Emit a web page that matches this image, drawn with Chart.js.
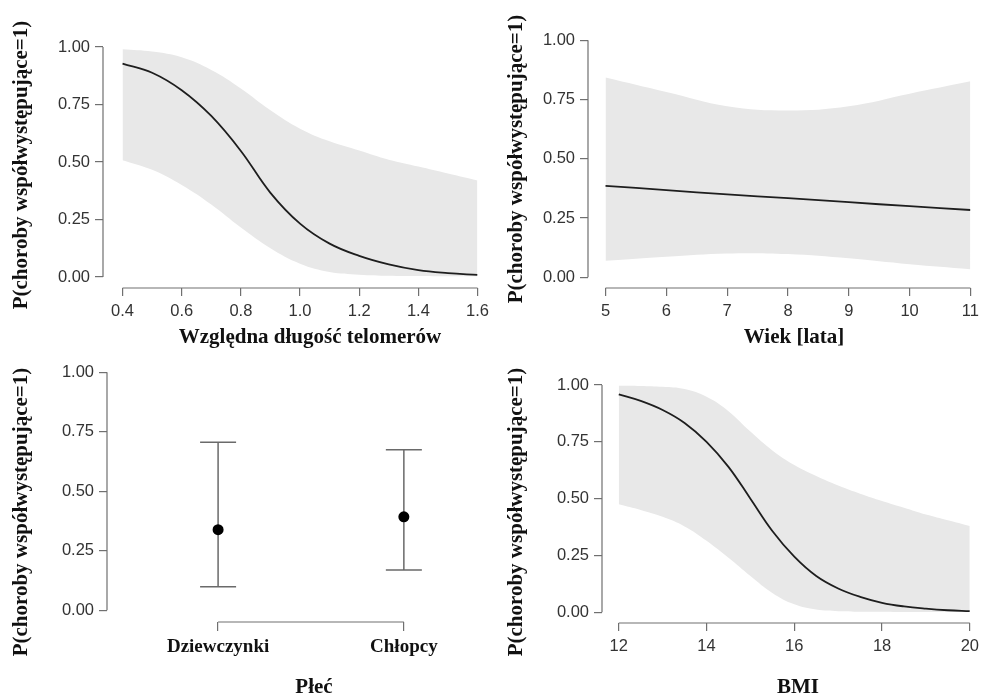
<!DOCTYPE html>
<html lang="pl">
<head>
<meta charset="utf-8">
<title>P(choroby współwystępujące=1)</title>
<script src="https://cdn.jsdelivr.net/npm/chart.js@4.4.1/dist/chart.umd.min.js"></script>
<style>
    html, body { margin: 0; padding: 0; background: #fff; overflow: hidden; }
    body { position: relative; width: 985px; height: 697px; }
    canvas { position: absolute; }
</style>
</head>
<body>
<canvas id="telomery" width="495" height="348" style="left:0;top:0"></canvas>
<canvas id="wiek" width="493" height="348" style="left:492px;top:0"></canvas>
<canvas id="plec" width="495" height="349" style="left:0;top:348px"></canvas>
<canvas id="bmi" width="493" height="349" style="left:492px;top:348px"></canvas>
<script>
// Predicted probability of comorbidities (logistic model effects)

const Y_TITLE = 'P(choroby współwystępujące=1)';
const yTicks = [0, 0.25, 0.5, 0.75, 1];

// Relative telomere length
const telomerX     = [0.4, 0.5, 0.6, 0.7, 0.8, 0.9, 1.0, 1.1, 1.2, 1.3, 1.4, 1.5, 1.6];
const telomerP     = [0.928, 0.888, 0.812, 0.7, 0.548, 0.366, 0.232, 0.145, 0.092, 0.055, 0.03, 0.017, 0.009];
const telomerUpper = [0.99, 0.98, 0.955, 0.9, 0.82, 0.725, 0.645, 0.59, 0.55, 0.51, 0.48, 0.45, 0.42];
const telomerLower = [0.508, 0.466, 0.4, 0.315, 0.215, 0.125, 0.058, 0.022, 0.01, 0.005, 0.004, 0.003, 0.003];
const telomerTicks = [0.4, 0.6, 0.8, 1.0, 1.2, 1.4, 1.6];

// Age in years
const wiekX     = [5, 6, 7, 8, 9, 10, 11];
const wiekP     = [0.386, 0.368, 0.35, 0.334, 0.317, 0.3, 0.284];
const wiekUpper = [0.843, 0.782, 0.722, 0.704, 0.722, 0.775, 0.827];
const wiekLower = [0.07, 0.087, 0.101, 0.098, 0.08, 0.055, 0.034];
const wiekTicks = [5, 6, 7, 8, 9, 10, 11];

// Sex
const plecLabels = ['Dziewczynki', 'Chłopcy'];
const plecP      = [0.339, 0.393];
const plecLower  = [0.099, 0.169];
const plecUpper  = [0.706, 0.675];

// BMI
const bmiX     = [12, 12.5, 13, 13.5, 14, 14.5, 15, 15.5, 16, 16.5, 17, 17.5, 18, 18.5, 19, 19.5, 20];
const bmiP     = [0.959, 0.93, 0.89, 0.833, 0.75, 0.64, 0.5, 0.358, 0.245, 0.16, 0.105, 0.068, 0.042, 0.026, 0.016, 0.009, 0.005];
const bmiUpper = [0.997, 0.996, 0.992, 0.982, 0.948, 0.885, 0.795, 0.712, 0.648, 0.6, 0.558, 0.522, 0.49, 0.46, 0.43, 0.405, 0.38];
const bmiLower = [0.475, 0.45, 0.42, 0.378, 0.315, 0.24, 0.16, 0.085, 0.035, 0.012, 0.005, 0.003, 0.002, 0.001, 0.001, 0.001, 0.001];
const bmiTicks = [12, 14, 16, 18, 20];

const AXIS_GREY = '#707070';
const TICK_TEXT = '#333333';
const BAND = '#e8e8e8';
const CURVE = '#1e1e1e';
const SANS = "'Liberation Sans', Arial, sans-serif";
const SERIF = "'Liberation Serif', 'Times New Roman', serif";

// R-like axes: the axis line only runs from the first to the last tick,
// titles are placed at fixed spots in the panel
const rAxes = {
    id: 'rAxes',
    afterDraw(chart, args, o) {
        const { ctx, chartArea, scales: { x, y } } = chart;
        const xt = x.ticks, yt = y.ticks;
        ctx.save();
        ctx.strokeStyle = AXIS_GREY;
        ctx.lineWidth = 1.2;
        ctx.beginPath();
        ctx.moveTo(chartArea.left, y.getPixelForValue(yt[0].value));
        ctx.lineTo(chartArea.left, y.getPixelForValue(yt[yt.length - 1].value));
        ctx.moveTo(x.getPixelForValue(xt[0].value), chartArea.bottom);
        ctx.lineTo(x.getPixelForValue(xt[xt.length - 1].value), chartArea.bottom);
        ctx.stroke();

        ctx.fillStyle = '#111';
        ctx.font = 'bold 21px ' + SERIF;
        ctx.textAlign = 'center';
        ctx.textBaseline = 'middle';
        ctx.fillText(o.xTitle, o.xTitleAt[0], o.xTitleAt[1]);
        ctx.translate(o.yTitleAt[0], o.yTitleAt[1]);
        ctx.rotate(-Math.PI / 2);
        ctx.fillText(Y_TITLE, 0, 0);
        ctx.restore();
    }
};

// Confidence intervals for the categorical panel
const errorBars = {
    id: 'errorBars',
    beforeDatasetsDraw(chart, args, o) {
        const { ctx, scales: { x, y } } = chart;
        ctx.save();
        ctx.strokeStyle = '#6a6a6a';
        ctx.lineWidth = 1.5;
        o.lower.forEach((lo, i) => {
            const px = x.getPixelForValue(i + 1);
            const top = y.getPixelForValue(o.upper[i]);
            const bot = y.getPixelForValue(lo);
            ctx.beginPath();
            ctx.moveTo(px, top); ctx.lineTo(px, bot);
            ctx.moveTo(px - o.cap, top); ctx.lineTo(px + o.cap, top);
            ctx.moveTo(px - o.cap, bot); ctx.lineTo(px + o.cap, bot);
            ctx.stroke();
        });
        ctx.restore();
    }
};

function points(xs, ys) {
    return xs.map((v, i) => ({ x: v, y: ys[i] }));
}

function makeScales(p) {
    return {
        x: {
            type: 'linear',
            min: p.xMin,
            max: p.xMax,
            afterBuildTicks: s => { s.ticks = p.xTicks.map(v => ({ value: v })); },
            afterFit: s => { s.height = p.xHeight; },
            border: { display: false },
            grid: { drawOnChartArea: false, drawTicks: true, tickLength: p.xTickLen || 8, color: AXIS_GREY, lineWidth: 1.2 },
            ticks: {
                autoSkip: false,
                maxRotation: 0,
                padding: p.xPad || 6,
                color: p.xTickColor || TICK_TEXT,
                font: p.xTickFont || { family: SANS, size: 16.5 },
                callback: p.xFormat
            }
        },
        y: {
            type: 'linear',
            min: p.yMin,
            max: p.yMax,
            afterBuildTicks: s => { s.ticks = yTicks.map(v => ({ value: v })); },
            afterFit: s => { s.width = p.yWidth; },
            border: { display: false },
            grid: { drawOnChartArea: false, drawTicks: true, tickLength: 8, color: AXIS_GREY, lineWidth: 1.2 },
            ticks: {
                padding: 5,
                color: TICK_TEXT,
                font: { family: SANS, size: 16.5 },
                callback: v => v.toFixed(2)
            }
        }
    };
}

function baseOptions(p) {
    return {
        responsive: false,
        animation: false,
        layout: { padding: { left: 0, top: p.padTop, right: p.padRight, bottom: 0 } },
        scales: makeScales(p),
        plugins: {
            legend: { display: false },
            tooltip: { enabled: false },
            rAxes: { xTitle: p.xTitle, xTitleAt: p.xTitleAt, yTitleAt: p.yTitleAt }
        }
    };
}

function curvePanel(id, xs, p, lower, upper, cfg) {
    new Chart(document.getElementById(id), {
        type: 'line',
        data: {
            datasets: [
                { data: points(xs, p), borderColor: CURVE, borderWidth: 1.8, pointRadius: 0,
                  fill: false, tension: 0.4, order: 0 },
                { data: points(xs, lower), borderColor: 'transparent', borderWidth: 0, pointRadius: 0,
                  fill: false, tension: 0.4, order: 2 },
                { data: points(xs, upper), borderColor: 'transparent', borderWidth: 0, pointRadius: 0,
                  fill: '-1', backgroundColor: BAND, tension: 0.4, order: 1 }
            ]
        },
        options: baseOptions(cfg),
        plugins: [rAxes]
    });
}

curvePanel('telomery', telomerX, telomerP, telomerLower, telomerUpper, {
    xMin: 0.334, xMax: 1.6, yMin: -0.0478, yMax: 1.0304,
    xTicks: telomerTicks, xFormat: v => v.toFixed(1),
    yWidth: 103, xHeight: 60, padTop: 40, padRight: 13,
    xTitle: 'Względna długość telomerów', xTitleAt: [310, 338], yTitleAt: [22, 165]
});

curvePanel('wiek', wiekX, wiekP, wiekLower, wiekUpper, {
    xMin: 4.712, xMax: 11, yMin: -0.045, yMax: 1.0266,
    xTicks: wiekTicks, xFormat: v => String(v),
    yWidth: 96, xHeight: 60, padTop: 34, padRight: 10,
    xTitle: 'Wiek [lata]', xTitleAt: [302, 338], yTitleAt: [25, 159]
});

curvePanel('bmi', bmiX, bmiP, bmiLower, bmiUpper, {
    xMin: 11.618, xMax: 20, yMin: -0.047, yMax: 1.0264,
    xTicks: bmiTicks, xFormat: v => String(v),
    yWidth: 110, xHeight: 74, padTop: 31, padRight: 10,
    xTitle: 'BMI', xTitleAt: [306, 340], yTitleAt: [25, 164]
});

// Sex: point estimates with intervals, categories at positions 1 and 2
const plecCfg = {
    xMin: 0.402, xMax: 2.461, yMin: -0.049, yMax: 1.0265,
    xTicks: plecLabels.map((l, i) => i + 1),
    xFormat: (v, i) => plecLabels[i],
    xTickLen: 9, xPad: 5, xTickColor: '#111',
    xTickFont: { family: SERIF, size: 19, weight: 'bold' },
    yWidth: 107, xHeight: 75, padTop: 18, padRight: 5,
    xTitle: 'Płeć', xTitleAt: [314, 340], yTitleAt: [22, 164]
};
const plecOptions = baseOptions(plecCfg);
plecOptions.plugins.errorBars = { lower: plecLower, upper: plecUpper, cap: 18 };

new Chart(document.getElementById('plec'), {
    type: 'line',
    data: {
        datasets: [{
            data: plecP.map((v, i) => ({ x: i + 1, y: v })),
            showLine: false,
            pointRadius: 5.5,
            pointBackgroundColor: '#000',
            pointBorderColor: '#000',
            pointBorderWidth: 0
        }]
    },
    options: plecOptions,
    plugins: [rAxes, errorBars]
});
</script>
</body>
</html>
